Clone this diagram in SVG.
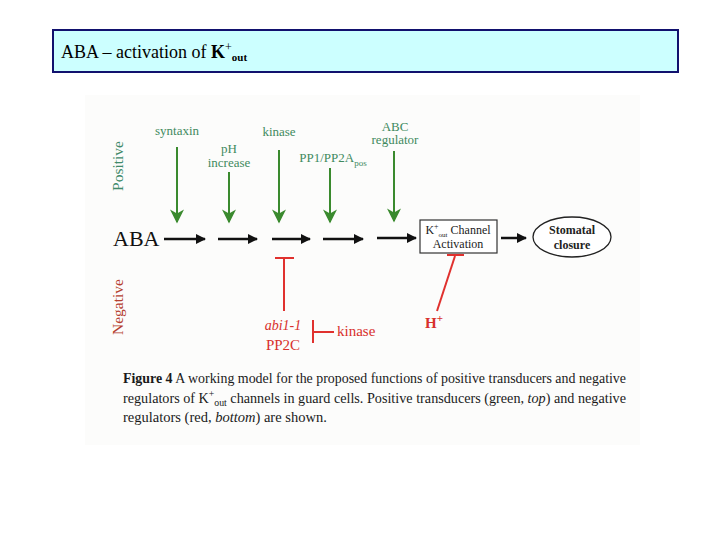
<svg xmlns="http://www.w3.org/2000/svg" width="720" height="540" viewBox="0 0 720 540">
<defs>
<style>
.serif{font-family:"Liberation Serif","Times New Roman",serif}
.gtxt{font-family:"Liberation Serif","Times New Roman",serif;font-size:13px;fill:#3f8a5e;text-anchor:middle}
.garr{stroke:#3a8a2e;stroke-width:2;fill:none}
.barr{stroke:#111;stroke-width:2.5;fill:none}
.rline{stroke:#e0312e;stroke-width:2;fill:none}
.rtxt{font-family:"Liberation Serif","Times New Roman",serif;fill:#d8302c}
.btxt{font-family:"Liberation Serif","Times New Roman",serif;fill:#222;text-anchor:middle;font-size:12px;font-weight:bold}
.cap{font-family:"Liberation Serif","Times New Roman",serif;font-size:14.5px;fill:#1a1a1a}
</style>
<marker id="gh" viewBox="0 0 10 10" refX="9" refY="5" markerWidth="7.5" markerHeight="7" orient="auto" markerUnits="strokeWidth">
<path d="M0,0 L10,5 L0,10 L3,5 z" fill="#3a8a2e"/>
</marker>
<marker id="bh" viewBox="0 0 10 10" refX="9" refY="5" markerWidth="4" markerHeight="4" orient="auto" markerUnits="strokeWidth">
<path d="M0,0 L10,5 L0,10 z" fill="#111"/>
</marker>
</defs>
<rect width="720" height="540" fill="#ffffff"/>
<g id="title">
<rect x="53" y="30" width="625" height="42" fill="#ccffff" stroke="#11116e" stroke-width="2"/>
<text x="61" y="58" class="serif" font-size="18" fill="#000">ABA – activation of <tspan font-weight="bold">K</tspan><tspan font-size="12" dy="-7">+</tspan><tspan font-size="11" font-weight="bold" dy="10">out</tspan></text>
</g>
<rect x="85" y="95" width="555" height="350" fill="#fcfcfb"/>
<g id="side-labels">
<text transform="translate(123,166) rotate(-90)" class="serif" font-size="15.5" fill="#3f8a6a" text-anchor="middle">Positive</text>
<text transform="translate(123,307) rotate(-90)" class="serif" font-size="15.5" fill="#b5402f" text-anchor="middle">Negative</text>
</g>
<g id="aba"><text x="113" y="246" class="serif" font-size="22" fill="#111">ABA</text></g>
<g id="syntaxin"><text x="177" y="135" class="gtxt">syntaxin</text></g>
<g id="ph"><text x="229" y="153" class="gtxt">pH</text><text x="229" y="167" class="gtxt">increase</text></g>
<g id="kinase-pos"><text x="279" y="136" class="gtxt">kinase</text></g>
<g id="pp1"><text x="333" y="162" class="gtxt">PP1/PP2A<tspan font-size="9" dy="4">pos</tspan></text></g>
<g id="abc"><text x="395" y="131" class="gtxt">ABC</text><text x="395" y="144" class="gtxt">regulator</text></g>
<g id="kout">
<rect x="420" y="220" width="77" height="33" fill="#fff" stroke="#333" stroke-width="1.2"/>
<text x="458" y="234" class="btxt" style="font-weight:normal">K<tspan font-size="8" dy="-5">+</tspan><tspan font-size="7" dy="8">out</tspan><tspan dy="-3"> Channel</tspan></text>
<text x="458" y="248" class="btxt" style="font-weight:normal">Activation</text>
</g>
<g id="stomatal">
<ellipse cx="572" cy="237" rx="39" ry="20" fill="#fff" stroke="#222" stroke-width="1.3"/>
<text x="572" y="234" class="btxt">Stomatal</text>
<text x="572" y="249" class="btxt">closure</text>
</g>
<g id="abi1">
<text x="283" y="330" class="rtxt" font-size="14" font-style="italic" text-anchor="middle">abi1-1</text>
<text x="283" y="350" class="rtxt" font-size="15" text-anchor="middle">PP2C</text>
</g>
<g id="kinase-neg"><text x="337" y="336" class="rtxt" font-size="15">kinase</text></g>
<g id="hplus"><text x="425" y="328" class="rtxt" font-size="15" font-weight="bold">H<tspan font-size="11" dy="-6">+</tspan></text></g>
<g id="connectors">
<line x1="177" y1="147" x2="177" y2="222" class="garr" marker-end="url(#gh)"/>
<line x1="229" y1="172" x2="229" y2="222" class="garr" marker-end="url(#gh)"/>
<line x1="279" y1="150" x2="279" y2="222" class="garr" marker-end="url(#gh)"/>
<line x1="330" y1="168" x2="330" y2="222" class="garr" marker-end="url(#gh)"/>
<line x1="394" y1="151" x2="394" y2="221" class="garr" marker-end="url(#gh)"/>
<line x1="164" y1="239" x2="205" y2="239" class="barr" marker-end="url(#bh)"/>
<line x1="218" y1="239" x2="257" y2="239" class="barr" marker-end="url(#bh)"/>
<line x1="272" y1="239" x2="310" y2="239" class="barr" marker-end="url(#bh)"/>
<line x1="323" y1="239" x2="363" y2="239" class="barr" marker-end="url(#bh)"/>
<line x1="377" y1="238" x2="416" y2="238" class="barr" marker-end="url(#bh)"/>
<line x1="501" y1="238" x2="526" y2="238" class="barr" stroke-width="2" marker-end="url(#bh)"/>
<line x1="275" y1="258" x2="294" y2="258" class="rline" stroke-width="2.5"/>
<line x1="284" y1="258" x2="284" y2="311" class="rline"/>
<line x1="313" y1="320" x2="313" y2="343" class="rline" stroke-width="2.5"/>
<line x1="313" y1="332" x2="334" y2="332" class="rline"/>
<line x1="447" y1="255" x2="464" y2="255" class="rline" stroke-width="2.5"/>
<line x1="455" y1="256" x2="437" y2="311" class="rline"/>
</g>
<g id="caption">
<text x="123" y="383" class="cap" textLength="503" lengthAdjust="spacingAndGlyphs"><tspan font-weight="bold">Figure 4</tspan>   A working model for the proposed functions of positive transducers and negative</text>
<text x="123" y="403" class="cap" textLength="503" lengthAdjust="spacingAndGlyphs">regulators of K<tspan font-size="10" dy="-6">+</tspan><tspan font-size="10" dy="9">out</tspan><tspan dy="-3"> channels in guard cells. Positive transducers (green, </tspan><tspan font-style="italic">top</tspan>) and negative</text>
<text x="123" y="422" class="cap">regulators (red, <tspan font-style="italic">bottom</tspan>) are shown.</text>
</g>
</svg>
